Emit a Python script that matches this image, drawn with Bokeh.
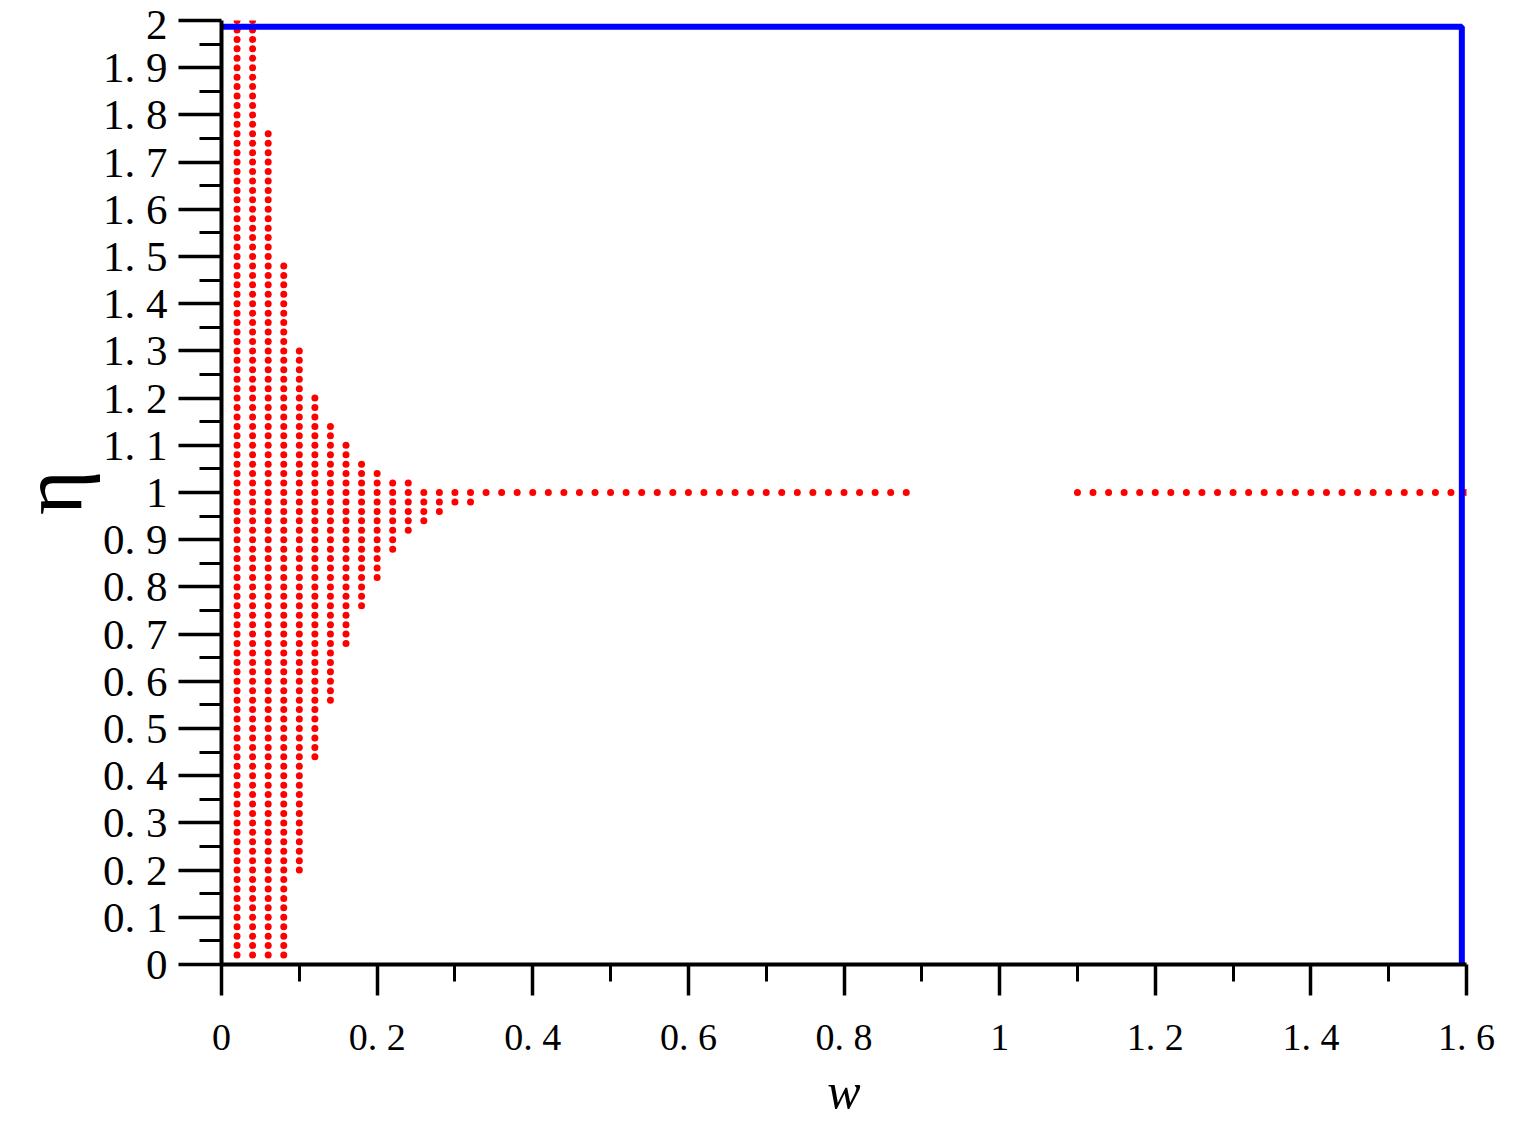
from bokeh.plotting import figure
from bokeh.models import Range1d, FixedTicker
from bokeh.embed import file_html
from bokeh.resources import INLINE

# ---- data ----
# red point grid: one column of points per w value, spanning eta_min..eta_max
col_w = [0.02, 0.04, 0.06, 0.08, 0.10, 0.12, 0.14, 0.16,
         0.18, 0.20, 0.22, 0.24, 0.26, 0.28, 0.30, 0.32]
col_eta_min = [0.02, 0.02, 0.02, 0.02, 0.20, 0.44, 0.56, 0.68,
               0.76, 0.82, 0.88, 0.92, 0.94, 0.96, 0.98, 0.98]
col_eta_max = [2.00, 2.00, 1.76, 1.48, 1.30, 1.20, 1.14, 1.10,
               1.06, 1.04, 1.02, 1.02, 1.00, 1.00, 1.00, 1.00]
# horizontal runs of points at eta = 1
row_eta = 1.0
row_w_start = [0.34, 1.10]
row_w_end = [0.88, 1.60]
grid_step = 0.02

# blue boundary
blue_w = [0.0, 1.594, 1.594]
blue_eta = [1.987, 1.987, 0.0]

# ticks
x_ticks = [0, 0.2, 0.4, 0.6, 0.8, 1.0, 1.2, 1.4, 1.6]
x_tick_labels = ["0", "0. 2", "0. 4", "0. 6", "0. 8", "1", "1. 2", "1. 4", "1. 6"]
x_minor = [0.1, 0.3, 0.5, 0.7, 0.9, 1.1, 1.3, 1.5]
y_ticks = [0, 0.1, 0.2, 0.3, 0.4, 0.5, 0.6, 0.7, 0.8, 0.9, 1.0,
           1.1, 1.2, 1.3, 1.4, 1.5, 1.6, 1.7, 1.8, 1.9, 2.0]
y_tick_labels = ["0", "0. 1", "0. 2", "0. 3", "0. 4", "0. 5", "0. 6", "0. 7", "0. 8", "0. 9", "1",
                 "1. 1", "1. 2", "1. 3", "1. 4", "1. 5", "1. 6", "1. 7", "1. 8", "1. 9", "2"]
y_minor = [0.05, 0.15, 0.25, 0.35, 0.45, 0.55, 0.65, 0.75, 0.85, 0.95,
           1.05, 1.15, 1.25, 1.35, 1.45, 1.55, 1.65, 1.75, 1.85, 1.95]
x_title = "w"
y_title = "η"

# ---- expand the runs into points ----
pts_w, pts_eta = [], []
for w, lo, hi in zip(col_w, col_eta_min, col_eta_max):
    n = int(round((hi - lo) / grid_step)) + 1
    for k in range(n):
        pts_w.append(w)
        pts_eta.append(lo + k * grid_step)
for a, b in zip(row_w_start, row_w_end):
    n = int(round((b - a) / grid_step)) + 1
    for k in range(n):
        pts_w.append(a + k * grid_step)
        pts_eta.append(row_eta)

SERIF = "Liberation Serif"

p = figure(width=1510, height=1121, output_backend="svg", toolbar_location=None,
           x_range=Range1d(0, 1.6), y_range=Range1d(0, 2.0),
           min_border_left=221, min_border_right=44, min_border_top=20, min_border_bottom=156)
p.outline_line_color = None
p.xgrid.visible = False
p.ygrid.visible = False
p.background_fill_color = "white"
p.border_fill_color = "white"

p.scatter(pts_w, pts_eta, marker="circle", size=7, fill_color="#ff0000", line_color=None)
p.line(blue_w, blue_eta, line_color="#0000ff", line_width=6)

xa = p.xaxis[0]
xa.ticker = FixedTicker(ticks=x_ticks, minor_ticks=x_minor)
xa.major_label_overrides = {t: s for t, s in zip(x_ticks, x_tick_labels)}
xa.axis_line_width = 4
xa.major_tick_line_width = 3.5
xa.minor_tick_line_width = 3
xa.major_tick_out = 31
xa.major_tick_in = 0
xa.minor_tick_out = 17
xa.minor_tick_in = 0
xa.major_label_standoff = 20
xa.major_label_text_font = SERIF
xa.major_label_text_font_size = "38px"
xa.major_label_text_color = "black"
xa.axis_label = x_title
xa.axis_label_text_font = SERIF
xa.axis_label_text_font_style = "italic"
xa.axis_label_text_font_size = "50px"
xa.axis_label_standoff = 2
xa.axis_label_text_color = "black"

ya = p.yaxis[0]
ya.ticker = FixedTicker(ticks=y_ticks, minor_ticks=y_minor)
ya.major_label_overrides = {t: s for t, s in zip(y_ticks, y_tick_labels)}
ya.axis_line_width = 4
ya.major_tick_line_width = 3.5
ya.minor_tick_line_width = 3
ya.major_tick_out = 43
ya.major_tick_in = 0
ya.minor_tick_out = 22
ya.minor_tick_in = 0
ya.major_label_standoff = 11
ya.major_label_text_font = SERIF
ya.major_label_text_font_size = "43px"
ya.major_label_text_color = "black"
ya.axis_label = y_title
ya.axis_label_text_font = SERIF
ya.axis_label_text_font_style = "normal"
ya.axis_label_text_font_size = "86px"
ya.axis_label_standoff = 0
ya.axis_label_text_color = "black"

open("out.html", "w").write(file_html(p, INLINE))
